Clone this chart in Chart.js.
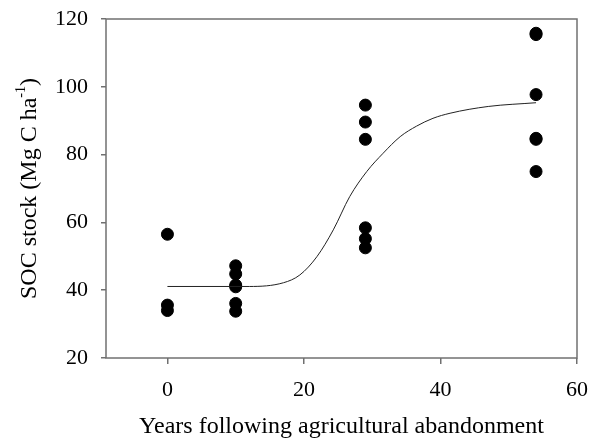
<!DOCTYPE html>
<html lang="en">
<head>
    <meta charset="UTF-8">
    <title>SOC stock</title>
    <style>
        body { margin: 0; background: #fff; }
        #wrap { width: 591px; height: 441px; }
    </style>
</head>
<body>
    <div id="wrap"><canvas id="socChart" width="591" height="441"></canvas></div>
    <script src="https://cdn.jsdelivr.net/npm/chart.js@4.4.1/dist/chart.umd.min.js"></script>
    <script>
        // observed SOC stocks, grouped by years since abandonment
        const years0 = [56.5, 35.6, 34.0];
        const years10 = [47.2, 44.8, 41.5, 41.0, 36.1, 33.8];
        const years29 = [94.6, 89.6, 84.5, 58.4, 55.2, 52.5];
        const years54 = [115.8, 115.4, 97.7, 84.8, 84.5, 75.0];

        // fitted curve
        const fitYears = [0, 12, 17, 19.4, 21.9, 24.3, 26.7, 29.2, 31.6, 34.1, 36.5, 38.9, 41.4, 47, 54];
        const fitSoc = [41.1, 41.1, 42.2, 44.5, 49.9, 57.8, 67.6, 75.0, 80.4, 85.3, 88.4, 90.7, 92.2, 94.2, 95.3];

        const xTicks = [0, 20, 40, 60];
        const yTicks = [20, 40, 60, 80, 100, 120];

        const serif = "'Liberation Serif', 'Times New Roman', serif";
        const axisGray = '#707070';

        function pointsAt(x, values) {
            return values.map(v => ({ x: x, y: v }));
        }

        const observed = []
            .concat(pointsAt(0, years0))
            .concat(pointsAt(10, years10))
            .concat(pointsAt(29, years29))
            .concat(pointsAt(54, years54));

        const fitLine = fitYears.map((x, i) => ({ x: x, y: fitSoc[i] }));

        // box around the plot + y title with a superscript
        const framePlugin = {
            id: 'frame',
            afterDraw(chart) {
                const ctx = chart.ctx;
                const a = chart.chartArea;
                ctx.save();
                ctx.strokeStyle = axisGray;
                ctx.lineWidth = 1.5;
                ctx.strokeRect(a.left, a.top, a.right - a.left, a.bottom - a.top);

                ctx.translate(30, (a.top + a.bottom) / 2);
                ctx.rotate(-Math.PI / 2);
                ctx.fillStyle = '#000';
                ctx.textBaseline = 'middle';
                ctx.textAlign = 'left';
                const main = 'SOC stock (Mg C ha';
                const sup = '-1';
                const close = ')';
                ctx.font = '24px ' + serif;
                const wMain = ctx.measureText(main).width;
                const wClose = ctx.measureText(close).width;
                ctx.font = '14px ' + serif;
                const wSup = ctx.measureText(sup).width;
                let x = -(wMain + wSup + wClose) / 2;
                ctx.font = '24px ' + serif;
                ctx.fillText(main, x, 0);
                x += wMain;
                ctx.font = '14px ' + serif;
                ctx.fillText(sup, x, -9);
                x += wSup;
                ctx.font = '24px ' + serif;
                ctx.fillText(close, x, 0);
                ctx.restore();
            }
        };

        new Chart(document.getElementById('socChart'), {
            type: 'scatter',
            data: {
                datasets: [
                    {
                        label: 'fit',
                        type: 'line',
                        data: fitLine,
                        borderColor: '#222',
                        borderWidth: 1,
                        pointRadius: 0,
                        fill: false,
                        cubicInterpolationMode: 'monotone'
                    },
                    {
                        label: 'observed',
                        data: observed,
                        backgroundColor: '#000',
                        borderColor: '#000',
                        pointRadius: 6,
                        pointHoverRadius: 6
                    }
                ]
            },
            plugins: [framePlugin],
            options: {
                responsive: false,
                animation: false,
                events: [],
                layout: { padding: { top: 19, right: 14, left: 0, bottom: 0 } },
                plugins: {
                    legend: { display: false },
                    tooltip: { enabled: false }
                },
                scales: {
                    x: {
                        type: 'linear',
                        min: -9,
                        max: 60,
                        afterBuildTicks: scale => { scale.ticks = xTicks.map(v => ({ value: v })); },
                        afterFit: scale => {
                            scale.height = 83;
                            scale.paddingLeft = 0;
                            scale.paddingRight = 0;
                        },
                        border: { display: false },
                        grid: { drawOnChartArea: false, color: axisGray, tickLength: 6, lineWidth: 1.5 },
                        ticks: { color: '#000', padding: 13, font: { family: serif, size: 22 } },
                        title: {
                            display: true,
                            text: 'Years following agricultural abandonment',
                            color: '#000',
                            padding: { top: 0, bottom: 0 },
                            font: { family: serif, size: 24 }
                        }
                    },
                    y: {
                        min: 20,
                        max: 120,
                        afterBuildTicks: scale => { scale.ticks = yTicks.map(v => ({ value: v })); },
                        afterFit: scale => {
                            scale.width = 106;
                            scale.paddingTop = 0;
                            scale.paddingBottom = 0;
                        },
                        border: { display: false },
                        grid: { drawOnChartArea: false, color: axisGray, tickLength: 5, lineWidth: 1.5 },
                        ticks: { color: '#000', padding: 13, font: { family: serif, size: 22 } }
                    }
                }
            }
        });
    </script>
</body>
</html>
